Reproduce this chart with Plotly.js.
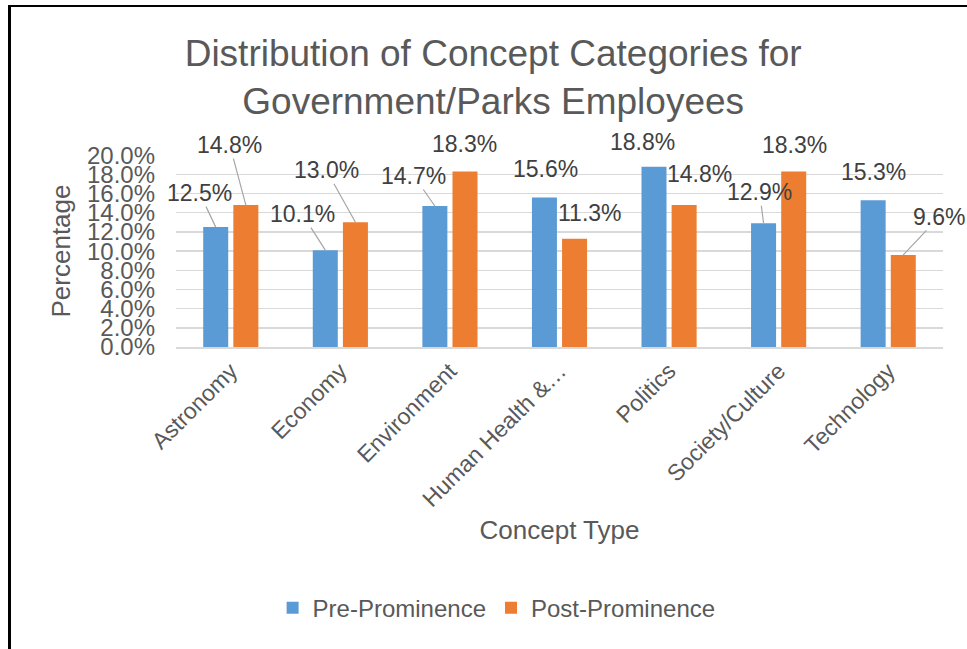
<!DOCTYPE html>
<html>
<head>
<meta charset="utf-8">
<script src="https://cdn.plot.ly/plotly-3.0.1.min.js"></script>
<style>
  html, body { margin: 0; padding: 0; background: #fff; overflow: hidden; }
  #chart { position: absolute; left: 0; top: 0; width: 967px; height: 649px; }
  #frame { position: absolute; left: 8px; top: 5px; width: 1000px; height: 700px;
           border-left: 3px solid #000; border-top: 2px solid #000; pointer-events: none; }
</style>
</head>
<body>
<div id="chart"></div>
<div id="frame"></div>
<script>
const categories = ['Astronomy', 'Economy', 'Environment', 'Human Health &…', 'Politics', 'Society/Culture', 'Technology'];
const preValues  = [12.5, 10.1, 14.7, 15.6, 18.8, 12.9, 15.3];
const postValues = [14.8, 13.0, 18.3, 11.3, 14.8, 18.3, 9.6];
const seriesNames = ['Pre-Prominence', 'Post-Prominence'];
const chartTitle = 'Distribution of Concept Categories for<br>Government/Parks Employees';
const xTitle = 'Concept Type';
const yTitle = 'Percentage';

const FONT = 'Liberation Sans, Arial, sans-serif';
const BLUE = '#5B9BD5', ORANGE = '#ED7D31';

// label placement (pixel offsets of the label from the bar top, and whether a leader line is drawn)
const preLabelStyle  = [[-16,-34,true],[-23,-36,true],[-21,-30,true],[1,-28,false],[-12,-25,false],[-4,-31,true],[0,-28,false]];
const postLabelStyle = [[-16,-60,true],[-29,-52,true],[0,-28,false],[15,-26,false],[15,-31,false],[1,-27,false],[36,-38,true]];
const BAR_OFFSET = 0.1375;

const annotations = [];
function addLabels(values, styles, offset) {
  values.forEach((v, i) => {
    const s = styles[i];
    annotations.push({
      x: i + offset, y: v, xref: 'x', yref: 'y',
      text: v.toFixed(1) + '%',
      showarrow: true, arrowhead: 0, arrowwidth: 1.2,
      arrowcolor: s[2] ? '#a6a6a6' : 'rgba(0,0,0,0)',
      ax: s[0], ay: s[1],
      font: { family: FONT, size: 23, color: '#404040' },
      borderpad: 0
    });
  });
}
addLabels(preValues, preLabelStyle, -BAR_OFFSET);
addLabels(postValues, postLabelStyle, BAR_OFFSET);

const traces = [
  { type: 'bar', name: seriesNames[0], x: categories, y: preValues, marker: { color: BLUE }, hoverinfo: 'none' },
  { type: 'bar', name: seriesNames[1], x: categories, y: postValues, marker: { color: ORANGE }, hoverinfo: 'none' }
];

const layout = {
  width: 967, height: 649,
  margin: { l: 176, r: 24, t: 155, b: 302, autoexpand: false },
  paper_bgcolor: '#fff', plot_bgcolor: '#fff',
  font: { family: FONT, color: '#595959' },
  title: { text: chartTitle, x: 0.51, xanchor: 'center', y: 0.898, yanchor: 'middle',
           font: { family: FONT, size: 37, color: '#595959' } },
  barmode: 'group', bargap: 0.45, bargroupgap: 0.17,
  xaxis: {
    type: 'category', range: [-0.5, categories.length - 0.5], autorange: false,
    tickangle: -45, automargin: false,
    tickfont: { family: FONT, size: 23, color: '#595959' },
    showline: true, linecolor: '#d9d9d9', linewidth: 1.5, ticks: '',
    title: { text: xTitle, font: { family: FONT, size: 26, color: '#595959' }, standoff: 10 }
  },
  yaxis: {
    range: [0, 20.02], autorange: false, dtick: 2, tick0: 0, tickformat: '.1f', ticksuffix: '%',
    automargin: false, showgrid: true, gridcolor: '#d9d9d9', gridwidth: 1.5,
    zeroline: false, showline: false, ticks: '', ticklabelstandoff: 20,
    tickfont: { family: FONT, size: 24, color: '#595959' },
    title: { text: yTitle, font: { family: FONT, size: 26, color: '#595959' }, standoff: 8 }
  },
  legend: { orientation: 'h', x: 0.418, xanchor: 'center', y: -1.36, yanchor: 'middle',
            font: { family: FONT, size: 24, color: '#595959' }, itemclick: false },
  annotations: annotations,
  showlegend: true
};

Plotly.newPlot('chart', traces, layout, { displayModeBar: false, staticPlot: true });
</script>
</body>
</html>
